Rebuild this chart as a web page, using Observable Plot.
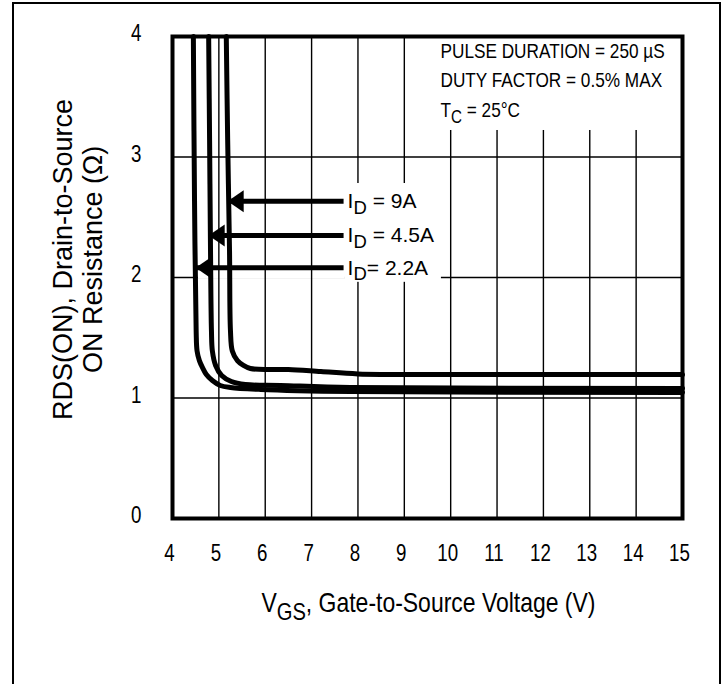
<!DOCTYPE html>
<html>
<head>
<meta charset="utf-8">
<script src="https://cdn.jsdelivr.net/npm/d3@7"></script>
<script src="https://cdn.jsdelivr.net/npm/@observablehq/plot@0.6"></script>
<style>
  html, body { margin: 0; padding: 0; background: #fff; }
  #wrap { position: relative; width: 726px; height: 684px; overflow: hidden; }
  #border { position: absolute; left: 12px; top: 2px; width: 705px; height: 720px;
            border: 2px solid #000; pointer-events: none; }
</style>
</head>
<body>
<div id="wrap"><div id="chart"></div><div id="border"></div></div>
<script>
// ---- data ----
const xTicks = [4, 5, 6, 7, 8, 9, 10, 11, 12, 13, 14, 15];
const yTicks = [0, 1, 2, 3, 4];

// I_D = 2.2A
const v22 = [4.45, 4.475, 4.51, 4.53, 4.58, 4.65, 4.73, 4.86, 5.03, 5.25, 5.9, 7.84, 15];
const r22 = [4.0, 2.64, 1.56, 1.39, 1.31, 1.25, 1.195, 1.145, 1.104, 1.087, 1.071, 1.054, 1.046];
// I_D = 4.5A
const v45 = [4.78, 4.80, 4.82, 4.84, 4.86, 4.93, 5.06, 5.27, 5.57, 6.33, 7.84, 15];
const r45 = [4.0, 3.14, 2.22, 1.56, 1.39, 1.27, 1.187, 1.137, 1.112, 1.104, 1.087, 1.079];
// I_D = 9A
const v9 = [5.16, 5.19, 5.23, 5.25, 5.29, 5.40, 5.53, 5.68, 6.1, 6.5, 7.2, 8.0, 10, 15];
const r9 = [4.0, 3.14, 2.22, 1.56, 1.39, 1.31, 1.27, 1.245, 1.237, 1.237, 1.22, 1.2, 1.195, 1.195];

const seriesNames = ["2.2A", "4.5A", "9A"];

// arrows + labels
const arrowLabels = ["I_{D} = 9A", "I_{D} = 4.5A", "I_{D}= 2.2A"];
const arrowTipV = [5.19, 4.78, 4.50];
const arrowR = [2.633, 2.349, 2.080];
const arrowTailV = [7.69, 7.69, 7.69];

// test conditions
const noteLines = ["PULSE DURATION = 250 \u00B5S", "DUTY FACTOR = 0.5% MAX", "T_{C} = 25\u00B0C"];
const noteR = [3.88, 3.635, 3.386];

const xTitle = "V_{GS}, Gate-to-Source Voltage (V)";
const yTitle1 = "RDS(ON), Drain-to-Source";
const yTitle2 = "ON Resistance (\u03A9)";

// ---- build tables ----
const curves = [];
[[v22, r22], [v45, r45], [v9, r9]].forEach(([vs, rs], k) => {
  vs.forEach((v, i) => curves.push({ id: seriesNames[k], v, r: rs[i] }));
});
const arrows = arrowLabels.map((label, i) => ({ label, tip: arrowTipV[i], tail: arrowTailV[i], r: arrowR[i] }));

const arrowHead = {
  draw(ctx) {
    ctx.moveTo(0, 0);
    ctx.lineTo(16, -11);
    ctx.lineTo(16, 11);
    ctx.closePath();
  }
};

const font = "'Liberation Sans', Arial, Helvetica, sans-serif";
const white = { fill: "#fff", stroke: null };

const svg = Plot.plot({
  width: 726,
  height: 684,
  marginLeft: 172,
  marginRight: 44,
  marginTop: 36,
  marginBottom: 166,
  style: { fontFamily: font, color: "#000", background: "#fff", overflow: "visible" },
  x: { domain: [4, 15] },
  y: { domain: [0, 4] },
  marks: [
    Plot.gridY(yTicks, { stroke: "#000", strokeOpacity: 1, strokeWidth: 1.4 }),
    // white backing of the arrow group hides the R = 2 grid line
    Plot.rect([0], { x1: () => 4.56, x2: () => 7.73, y1: () => 1.985, y2: () => 2.015, ...white }),
    Plot.gridX(xTicks, { stroke: "#000", strokeOpacity: 1, strokeWidth: 1.4 }),
    // white boxes behind the labels
    Plot.rect([0], { x1: () => 7.73, x2: () => 9.8, y1: () => 1.96, y2: () => 2.78, ...white }),
    Plot.rect([0], { x1: () => 9.56, x2: () => 15, y1: () => 3.22, y2: () => 4, ...white }),
    Plot.frame({ stroke: "#000", strokeWidth: 4 }),
    Plot.axisX({ ticks: xTicks, tickSize: 0, tickPadding: 25, fontSize: 24, dx: -3, label: null, tickFormat: d => String(d) }),
    Plot.axisY({ ticks: yTicks, tickSize: 0, tickPadding: 31, fontSize: 24, dy: -3, label: null, tickFormat: d => String(d) }),
    Plot.line(curves, { x: "v", y: "r", z: "id", stroke: "#000", strokeWidth: 5, curve: "catmull-rom", strokeLinejoin: "round" }),
    Plot.link(arrows, { x1: "tip", x2: "tail", y1: "r", y2: "r", stroke: "#000", strokeWidth: 5 }),
    Plot.dot(arrows, { x: "tip", y: "r", symbol: arrowHead, r: 5, fill: "#000", stroke: null }),
    Plot.text(arrows, { x: "tail", y: "r", text: "label", textAnchor: "start", dx: 4, fontSize: 21 }),
    Plot.text(noteLines, { x: () => 9.78, y: (d, i) => noteR[i], text: d => d, textAnchor: "start", fontSize: 21 }),
    Plot.text([xTitle], { x: () => 9.52, y: () => -0.705, text: d => d, fontSize: 28 }),
    Plot.text([yTitle1], { x: () => 1.65, y: () => 2.15, text: d => d, rotate: -90, fontSize: 27 }),
    Plot.text([yTitle2], { x: () => 2.30, y: () => 2.15, text: d => d, rotate: -90, fontSize: 27 })
  ]
});

document.getElementById("chart").append(svg);

// narrow (condensed) lettering: tick labels, test conditions, x title
const condensed = new Set([...noteLines, xTitle]);
d3.select(svg).selectAll("text").each(function () {
  const g = this.parentNode;
  const lab = (g && g.getAttribute && g.getAttribute("aria-label")) || "";
  const isTick = /tick label/.test(lab);
  if (!(condensed.has(this.textContent) || isTick)) return;
  const k = isTick ? 0.78 : 0.82;
  const tr = this.getAttribute("transform");
  const x = this.getAttribute("x"), y = this.getAttribute("y");
  if (x != null || y != null) {
    const X = +x || 0, Y = +y || 0;
    this.setAttribute("transform", `${tr || ""} translate(${X},${Y}) scale(${k},1) translate(${-X},${-Y})`.trim());
  } else {
    this.setAttribute("transform", `${tr || ""} scale(${k},1)`.trim());
  }
});

// subscripts: "X_{sub}rest" -> tspans
d3.select(svg).selectAll("text").each(function () {
  const t = this.textContent;
  const m = t.match(/^(.*?)_\{(.*?)\}(.*)$/);
  if (!m) return;
  const fs = parseFloat(getComputedStyle(this).fontSize) || 20;
  const el = d3.select(this);
  el.text(null);
  el.append("tspan").text(m[1]);
  el.append("tspan").attr("font-size", (fs * 0.88).toFixed(1)).attr("dy", (fs * 0.28).toFixed(1)).text(m[2]);
  el.append("tspan").attr("dy", (-fs * 0.28).toFixed(1)).text(m[3]);
});
</script>
</body>
</html>
